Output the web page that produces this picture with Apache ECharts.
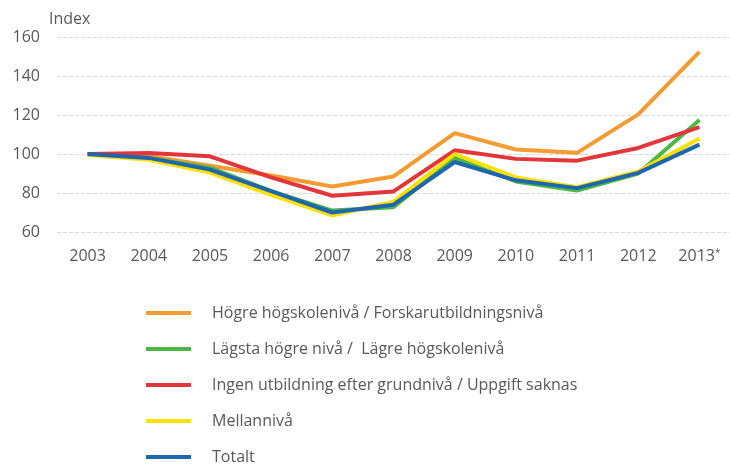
<!DOCTYPE html>
<html>
<head>
<meta charset="utf-8">
<script src="https://cdn.jsdelivr.net/npm/echarts@6/dist/echarts.min.js"></script>
<style>
  html, body { margin: 0; padding: 0; background: #fff; }
  #chart { width: 730px; height: 464px; }
</style>
</head>
<body>
<div id="chart"></div>
<script>
var years = ['2003', '2004', '2005', '2006', '2007', '2008', '2009', '2010', '2011', '2012', '2013*']
var names = [
  'Högre högskolenivå / Forskarutbildningsnivå',
  'Lägsta högre nivå /  Lägre högskolenivå',
  'Ingen utbildning efter grundnivå / Uppgift saknas',
  'Mellannivå',
  'Totalt'
]
var hogre = [100, 99, 94, 89, 83.3, 88.5, 110.7, 102.3, 100.6, 120.3, 152.4]
var lagsta = [100, 98, 93, 81, 71, 72.7, 98, 85.9, 81.3, 90, 117.4]
var ingen = [100, 100.5, 98.8, 88, 78.6, 80.8, 101.9, 97.5, 96.6, 103.1, 113.8]
var mellan = [99.5, 97, 90.5, 79, 68.5, 75.6, 100, 88, 83, 91, 108]
var totalt = [100, 98, 92, 81, 70, 74, 95.9, 86.5, 82.5, 90.3, 104.8]
var colors = ['#F59B34', '#4DB843', '#E2363A', '#FFE100', '#1F66B0']

var chart = echarts.init(document.getElementById('chart'))
var seriesData = [hogre, lagsta, ingen, mellan, totalt]
var series = []
for (var i = 0; i < seriesData.length; i++) {
  series.push({
    name: names[i],
    type: 'line',
    data: seriesData[i],
    showSymbol: false,
    lineStyle: {width: 4, color: colors[i]},
    itemStyle: {color: colors[i]}
  })
}
chart.setOption({
  animation: false,
  textStyle: {fontFamily: 'Open Sans', color: '#595959'},
  grid: {left: 57, top: 37, width: 681, height: 195},
  legend: {
    orient: 'vertical',
    left: 146,
    top: 305,
    height: 180,
    padding: 0,
    icon: 'rect',
    itemWidth: 45,
    itemHeight: 4,
    itemGap: 20,
    textStyle: {fontFamily: 'Open Sans', fontSize: 16, color: '#595959', padding: [0, 0, 0, 16]},
    data: names
  },
  xAxis: {
    type: 'category',
    data: years,
    boundaryGap: true,
    axisLine: {show: false},
    axisTick: {show: false},
    axisLabel: {
      interval: 0,
      fontSize: 16,
      color: '#595959',
      margin: 16,
      formatter: function (v) {
        if (v.indexOf('*') >= 0) return '{n|' + v.replace('*', '') + '}{s|*}'
        return v
      },
      rich: {
        n: {fontSize: 16, color: '#595959', lineHeight: 16},
        s: {fontSize: 10, color: '#595959', lineHeight: 16, verticalAlign: 'top'}
      }
    }
  },
  yAxis: {
    type: 'value',
    min: 60,
    max: 160,
    interval: 20,
    name: 'Index',
    nameGap: 10,
    nameTextStyle: {fontSize: 16, color: '#595959', align: 'left', padding: [0, 0, 0, -8]},
    axisLine: {show: false},
    axisTick: {show: false},
    axisLabel: {fontSize: 16, color: '#595959', margin: 17},
    splitLine: {lineStyle: {color: '#D9D9D9', type: 'dashed', width: 1}}
  },
  series: series
})
</script>
</body>
</html>
